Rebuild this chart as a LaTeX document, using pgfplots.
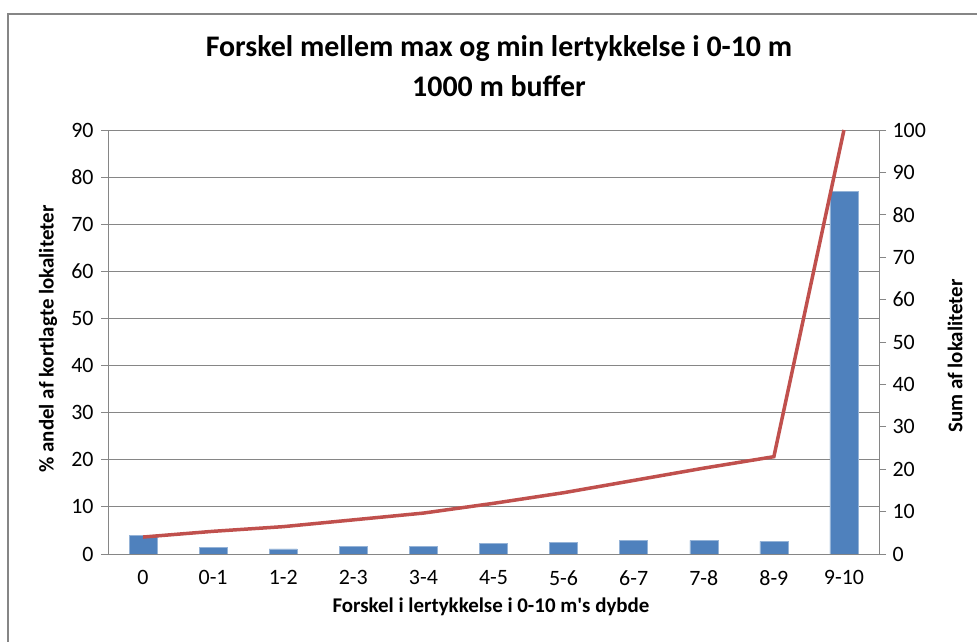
\documentclass[border=0pt]{standalone}
\usepackage{fontspec}
\setmainfont{Carlito}
\usepackage{pgfplots}
\usepackage{pgfplotstable}
\pgfplotsset{compat=1.18}

\definecolor{barblue}{HTML}{4F81BD}
\definecolor{linered}{HTML}{C0504D}
\definecolor{axgray}{HTML}{868686}

% andel (%) per klasse
\pgfplotstableread{
x pct
0  4.0
1  1.35
2  1.1
3  1.6
4  1.6
5  2.3
6  2.5
7  2.9
8  2.9
9  2.7
10 77.05
}\shares

% kumuleret sum
\pgfplotstableread{
x cum
0  4.0
1  5.35
2  6.45
3  8.05
4  9.65
5  11.95
6  14.45
7  17.35
8  20.25
9  22.95
10 100
}\cumulative

\begin{document}
\begin{tikzpicture}
\useasboundingbox (0,0) rectangle (977bp,642bp);
\fill[white] (0,0) rectangle (977bp,642bp);
\draw[axgray, line width=2bp] (7.5bp,0) -- (7.5bp,628bp) -- (977bp,628bp);

\pgfplotsset{
  base/.style={
    at={(108bp,88bp)}, anchor=south west,
    scale only axis, width=771bp, height=424bp,
    xmin=-0.5, xmax=10.5,
    tick align=outside,
    major tick length=7bp, minor tick length=7bp,
    every tick/.style={axgray, line width=0.8bp},
    axis line style={axgray, line width=0.8bp},
    ticklabel style={font=\fontsize{22}{26}\selectfont, text=black},
    /pgf/number format/assume math mode=true,
  }
}

\begin{axis}[
  base,
  ymin=0, ymax=90,
  ytick={0,10,...,90},
  ytick pos=left, xtick pos=left,
  xtick={0,...,10},
  xticklabels={0,0-1,1-2,2-3,3-4,4-5,5-6,6-7,7-8,8-9,9-10},
  minor xtick={-0.5,0.5,...,10.5},
  xtick style={draw=none},
  ymajorgrids,
  major grid style={axgray, line width=0.8bp},
  xticklabel style={yshift=-6bp},
  yticklabel style={xshift=-4bp},
]
\addplot[ybar, bar width=0.4, fill=barblue, draw=barblue!60!white, line width=0.5bp] table[x=x, y=pct] {\shares};
\end{axis}

\begin{axis}[
  base,
  ymin=0, ymax=100,
  ytick={0,10,...,100},
  axis y line*=right, axis x line=none,
  yticklabel style={xshift=3bp},
]
\addplot[linered, line width=3.5bp] table[x=x, y=cum] {\cumulative};
\end{axis}

\node[font=\bfseries\fontsize{30}{34}\selectfont] at (499bp,593bp) {Forskel mellem max og min lertykkelse i 0-10 m};
\node[font=\bfseries\fontsize{30}{34}\selectfont] at (499bp,556bp) {1000 m buffer};
\node[font=\bfseries\fontsize{21}{25}\selectfont] at (491bp,35bp) {Forskel i lertykkelse i 0-10 m{\addfontfeatures{Ligatures=TeXOff}'}s dybde};
\node[font=\bfseries\fontsize{21}{25}\selectfont, rotate=90] at (48bp,303bp) {\% andel af kortlagte lokaliteter};
\node[font=\bfseries\fontsize{21}{25}\selectfont, rotate=90] at (955bp,286bp) {Sum af lokaliteter};
\end{tikzpicture}
\end{document}
